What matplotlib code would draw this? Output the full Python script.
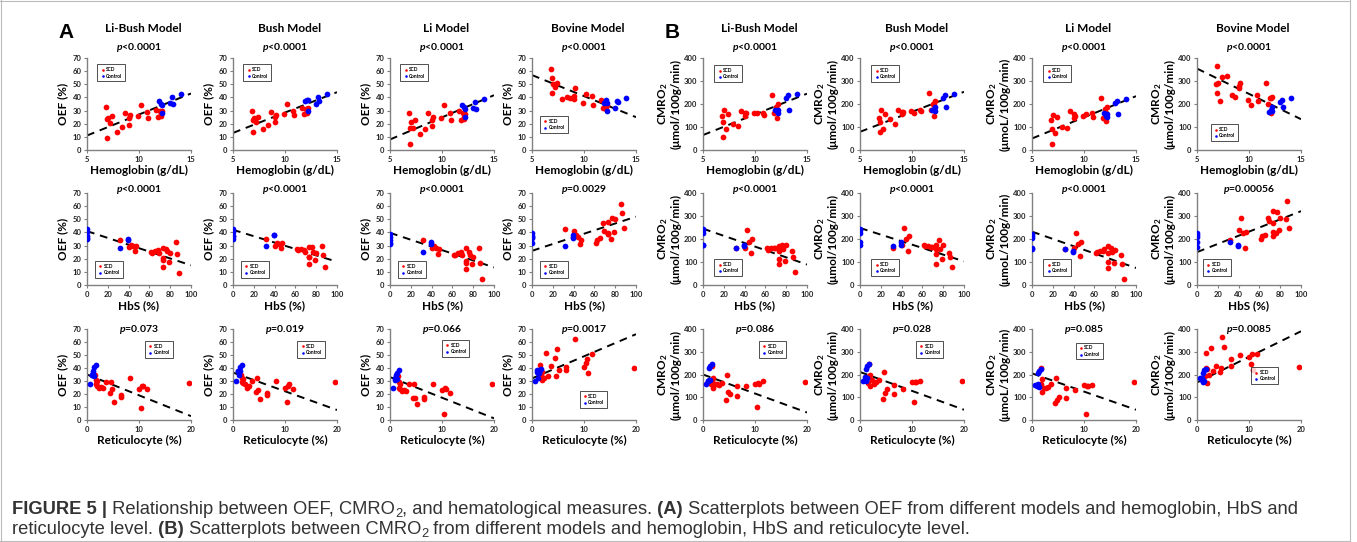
import numpy as np
import matplotlib
matplotlib.use("Agg")
import matplotlib.pyplot as plt
import matplotlib.transforms as mtransforms
from matplotlib.lines import Line2D

plt.rcParams['font.family'] = ['Lato', 'DejaVu Sans']
plt.rcParams['font.weight'] = 'bold'
plt.rcParams['axes.labelweight'] = 'bold'
plt.rcParams['mathtext.fontset'] = 'custom'
plt.rcParams['mathtext.rm'] = 'Lato:bold'
plt.rcParams['mathtext.it'] = 'Lato:bold:italic'
plt.rcParams['mathtext.bf'] = 'Lato:bold'

# --- SCD patients (one entry per subject) ---
scd_hb = [6.8, 6.9, 6.9, 7.0, 7.2, 7.4, 7.9, 8.4, 8.7, 9.0, 9.0, 9.1, 9.9, 10.2, 10.8, 10.9, 11.6, 11.8, 12.0, 12.1, 12.2, 12.1]
scd_hbs = [85.5, 88.7, 86.5, 80, 73.2, 76.8, 73.5, 79, 72.6, 72.9, 69.4, 68.7, 65, 31.6, 40.3, 62.9, 41.9, 61.3, 44.5, 46.1, 46.8, 75.8]
scd_retic = [8.3, 10.3, 4.8, 11.5, 4.5, 2.6, 5.2, 6.6, 19.7, 6.6, 10.0, 10.6, 10.8, 1.5, 3.7, 3.0, 1.8, 2.3, 1.9, 2.0, 4.7, 1.7]
scd_oef_libush = [32.5, 9.5, 23.5, 24, 20.5, 25.5, 13.5, 17.5, 28.5, 19, 24, 26.5, 26, 34.5, 29, 24.5, 30.5, 25, 30, 26, 29.5, 27.5]
scd_oef_bush = [30, 14, 23, 24, 21.5, 25, 16, 19, 29, 21, 25, 26.5, 27.5, 35, 30, 26.5, 32, 27.5, 31.5, 28.5, 32, 29]
scd_oef_li = [28, 4.5, 17, 21, 17, 23, 12, 16, 28, 18, 23, 25, 24, 34, 28, 22.5, 29.5, 22.5, 28, 23.5, 27.5, 25]
scd_oef_bovine = [62, 43.7, 55, 50.5, 48, 51.3, 38.7, 40.4, 39.7, 38.7, 41, 46.8, 36.1, 42.5, 41.2, 34.1, 37.9, 32, 36.6, 31, 34, 35]
scd_cmro2_libush = [149, 55, 123, 173, 90, 157, 113, 104, 169, 149, 159, 163, 159, 159, 162, 152, 237, 159, 185, 141, 198, 175]
scd_cmro2_bush = [137, 80, 120, 173, 92, 157, 135, 113, 172, 155, 165, 167, 168, 163, 175, 168, 248, 175, 200, 150, 212, 195]
scd_cmro2_li = [130, 25, 90, 152, 75, 142, 100, 95, 168, 140, 155, 150, 148, 155, 160, 143, 228, 140, 180, 125, 185, 160]
scd_cmro2_bovine = [285, 248, 365, 290, 212, 318, 320, 237, 232, 270, 278, 292, 218, 195, 238, 215, 293, 200, 225, 162, 230, 228]

# --- controls ---
ctl_hb = [11.9, 12.1, 12.2, 12.2, 13.0, 13.2, 13.3, 14.0]
ctl_hbs = [0, 39, 32, 39, 0, 0, 0, 0]
ctl_retic = [1.2, 0.9, 0.6, 1.4, 1.1, 1.3, 1.0, 1.7]
ctl_oef_libush = [37.5, 35, 28, 34, 36, 40.5, 35, 42.5]
ctl_oef_bush = [37.5, 38, 30, 38, 35, 40.5, 37.5, 42.5]
ctl_oef_li = [34.5, 32.5, 25, 31.5, 32, 36.5, 31, 38.5]
ctl_oef_bovine = [35.9, 38.4, 29.8, 36, 32, 37, 36.6, 39.2]
ctl_cmro2_libush = [175, 170, 160, 175, 228, 238, 173, 245]
ctl_cmro2_bush = [172, 175, 170, 185, 225, 238, 188, 245]
ctl_cmro2_li = [160, 150, 155, 145, 205, 215, 155, 222]
ctl_cmro2_bovine = [165, 175, 185, 170, 207, 218, 185, 225]

# regression line values at the left / right end of the x range
fit_A_left = [[11, 13, 8, 57], [41, 42, 39.7, 26], [35, 36.5, 33, 32]]
fit_A_right = [[43, 44, 41.7, 25], [15, 17.7, 13.4, 52], [3, 7.7, 1.3, 66]]
fit_B_left = [[65, 79, 50, 354], [245, 248, 232, 143], [200, 211, 205, 165]]
fit_B_right = [[245, 253, 234, 134], [89, 103, 74, 321], [33, 45, 45, 390]]

models = ["Li-Bush Model", "Bush Model", "Li Model", "Bovine Model"]
xlabels = ["Hemoglobin (g/dL)", "HbS (%)", "Reticulocyte (%)"]
pvals_A = [["<0.0001", "<0.0001", "<0.0001", "<0.0001"],
           ["<0.0001", "<0.0001", "<0.0001", "=0.0029"],
           ["=0.073", "=0.019", "=0.066", "=0.0017"]]
pvals_B = [["<0.0001", "<0.0001", "<0.0001", "<0.0001"],
           ["<0.0001", "<0.0001", "<0.0001", "=0.00056"],
           ["=0.086", "=0.028", "=0.085", "=0.0085"]]

scd_x = [scd_hb, scd_hbs, scd_retic]
ctl_x = [ctl_hb, ctl_hbs, ctl_retic]
scd_oef = [scd_oef_libush, scd_oef_bush, scd_oef_li, scd_oef_bovine]
ctl_oef = [ctl_oef_libush, ctl_oef_bush, ctl_oef_li, ctl_oef_bovine]
scd_cmr = [scd_cmro2_libush, scd_cmro2_bush, scd_cmro2_li, scd_cmro2_bovine]
ctl_cmr = [ctl_cmro2_libush, ctl_cmro2_bush, ctl_cmro2_li, ctl_cmro2_bovine]

W, H = 1357, 542
fig = plt.figure(figsize=(W / 100, H / 100), dpi=100)

col_left = {"A": [87, 233, 390, 532], "B": [703, 860, 1032, 1197]}
row_y = [(58, 150), (193, 285), (329, 420)]
ax_w = 104
xlims = [(5, 15), (0, 100), (0, 20)]
xticks = [[5, 10, 15], [0, 20, 40, 60, 80, 100], [0, 10, 20]]
ptext_y = [47, 189, 329]

# legend anchor (axes fraction, upper-left corner)
leg_A = [[(0.1, 0.93)] * 3 + [(0.08, 0.37)],
         [(0.08, 0.26)] * 4,
         [(0.56, 0.87), (0.62, 0.87), (0.5, 0.88), (0.46, 0.32)]]
leg_B = [[(0.11, 0.92)] * 3 + [(0.13, 0.28)],
         [(0.11, 0.28)] * 3 + [(0.06, 0.28)],
         [(0.54, 0.87), (0.54, 0.87), (0.42, 0.85), (0.52, 0.58)]]


def fx(px):
    return px / W


def fy(py):
    return 1 - py / H


for blk in ["A", "B"]:
    for r in range(3):
        for c in range(4):
            left = col_left[blk][c]
            top, bot = row_y[r]
            ax = fig.add_axes([fx(left), fy(bot), ax_w / W, (bot - top) / H])
            if blk == "A":
                ys, yc = scd_oef[c], ctl_oef[c]
                ylim, yt = (0, 70), range(0, 71, 10)
                ylab = "OEF (%)"
                pv = pvals_A[r][c]
                legpos = leg_A[r][c]
                fl, fr = fit_A_left[r][c], fit_A_right[r][c]
            else:
                ys, yc = scd_cmr[c], ctl_cmr[c]
                ylim, yt = (0, 400), range(0, 401, 100)
                unit = "μmoL" if c == 2 else "μmol"
                ylab = "CMRO$_2$\n(" + unit + "/100g/min)"
                pv = pvals_B[r][c]
                legpos = leg_B[r][c]
                fl, fr = fit_B_left[r][c], fit_B_right[r][c]
            xs, xc = scd_x[r], ctl_x[r]
            ax.scatter(xs, ys, s=17, color="#ff0000", linewidths=0, zorder=3, label="SCD")
            ax.scatter(xc, yc, s=17, color="#0000ff", linewidths=0, zorder=3, label="Control")
            ax.plot(xlims[r], [fl, fr], color="black", lw=1.4, ls=(0, (4, 3)), zorder=2)
            ax.set_xlim(xlims[r])
            ax.set_ylim(ylim)
            ax.set_xticks(xticks[r])
            ax.set_yticks(list(yt))
            for s in ["top", "right"]:
                ax.spines[s].set_visible(False)
            for s in ["left", "bottom"]:
                ax.spines[s].set_color("#808080")
                ax.spines[s].set_linewidth(1.0)
            ax.tick_params(labelsize=5.5, length=2.5, width=0.8, color="#808080", pad=1.5,
                           labelcolor="#222222")
            ax.set_xlabel(xlabels[r], fontsize=8.5, labelpad=2)
            if blk == "A":
                ax.set_ylabel(ylab, fontsize=8.5, labelpad=3)
            else:
                ax.set_ylabel(ylab, fontsize=8.5, labelpad=2, linespacing=1.05)
            leg = ax.legend(loc="upper left", bbox_to_anchor=legpos, fontsize=3.5, markerscale=0.45,
                            frameon=True, fancybox=False, borderpad=0.55, handletextpad=0.2,
                            labelspacing=0.3, handlelength=1.0, borderaxespad=0)
            leg.get_frame().set_edgecolor("black")
            leg.get_frame().set_linewidth(0.6)
            cx = fx(left + ax_w / 2)
            if r == 0:
                fig.text(cx + 0.003, fy(29), models[c], ha="center", va="center", fontsize=8.5)
            fig.text(cx, fy(ptext_y[r]), "$p$" + pv, ha="center", va="center", fontsize=7.5)

fig.text(fx(58), fy(33), "A", fontsize=15, fontweight="bold", family="Liberation Sans",
         ha="left", va="center")
fig.text(fx(665), fy(33), "B", fontsize=15, fontweight="bold", family="Liberation Sans",
         ha="left", va="center")

# frame lines
for xy in [([1, 1], [0, H]), ([1350, 1350], [0, H]), ([0, 1350], [1, 1]), ([0, 1350], [H - 1, H - 1])]:
    fig.add_artist(Line2D([fx(v) for v in xy[0]], [fy(v) for v in xy[1]], color="#bbbbbb", lw=0.8))

# caption with mixed weights
fig.canvas.draw()
renderer = fig.canvas.get_renderer()
cap_font = ["Liberation Sans"]
cap_size = 13.25


def rich_line(x, y, pieces):
    for txt, style in pieces:
        size = cap_size * (0.7 if style == "sub" else 1.0)
        yy = y + (3 if style == "sub" else 0)
        t = fig.text(x, H - yy, txt, transform=mtransforms.IdentityTransform(),
                     fontsize=size, family=cap_font,
                     fontweight="bold" if style == "bold" else "normal",
                     color="#333333", va="baseline", ha="left")
        x += t.get_window_extent(renderer).width


rich_line(12, 514, [("FIGURE 5 |", "bold"), (" Relationship between OEF, CMRO", "normal"), ("2", "sub"),
                    (", and hematological measures.", "normal"), (" (A)", "bold"),
                    (" Scatterplots between OEF from different models and hemoglobin, HbS and", "normal")])
rich_line(12, 534, [("reticulocyte level.", "normal"), (" (B)", "bold"), (" Scatterplots between CMRO", "normal"),
                    ("2", "sub"), (" from different models and hemoglobin, HbS and reticulocyte level.", "normal")])

fig.savefig("out.png", dpi=100)
